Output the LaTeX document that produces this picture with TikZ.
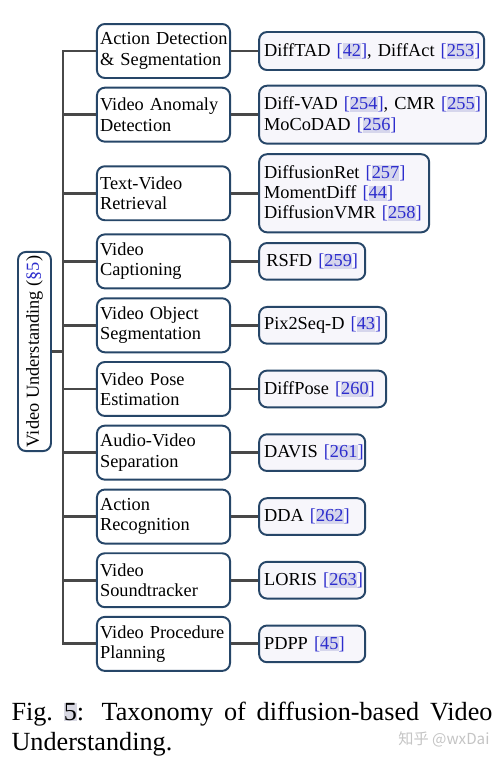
\documentclass[tikz,border=0pt]{standalone}
\usepackage{fontspec}
\setmainfont{Liberation Serif}
\newfontfamily\cjk{Noto Sans CJK SC}
\usepackage{tikz}
\usetikzlibrary{positioning}

\definecolor{boxblue}{RGB}{38,70,104}
\definecolor{edgegray}{RGB}{72,72,72}
\definecolor{leafbg}{RGB}{247,246,251}
\definecolor{citeblue}{RGB}{45,45,205}
\definecolor{citebg}{RGB}{214,214,236}
\definecolor{figbg}{RGB}{216,216,226}
\definecolor{wmgray}{RGB}{196,196,196}

\newcommand{\diagfont}{\fontsize{7}{7.8}\selectfont\hyphenpenalty=10000\exhyphenpenalty=10000}
\newcommand{\citebox}[1]{{\color{citeblue}[{\fboxsep=0pt\colorbox{citebg}{\vphantom{[]}#1}}]}}

\begin{document}
\begin{tikzpicture}[x=0.3817pt, y=0.3817pt, node distance=2.95pt and 10.35pt,
	cat/.style={draw=boxblue, line width=0.75pt, rounded corners=3pt, fill=white, minimum height=20.6pt, text width=48.4pt, inner xsep=1.2pt, inner ysep=1pt, align=left, font=\diagfont},
	leaf/.style={draw=boxblue, line width=0.75pt, rounded corners=3pt, fill=leafbg, minimum height=14pt, text width=#1, inner xsep=1.9pt, inner ysep=1pt, align=left, font=\diagfont},
	leaf/.default=36.7pt,
	root/.style={draw=boxblue, line width=0.75pt, rounded corners=3pt, fill=white, minimum width=12.6pt, minimum height=76pt, inner sep=0.5pt, font=\diagfont},
	edge/.style={draw=edgegray, line width=1.1pt},
	capt/.style={anchor=north west, text width=183.6pt, align=justify, inner sep=0pt, font=\fontsize{10}{11.3}\selectfont},
	wm/.style={text=wmgray, inner sep=0pt, font=\cjk\fontsize{5.8}{6}\selectfont}]
	\useasboundingbox (0,0) rectangle (503,-760);

	\node[cat] (det) at (163.5,-51) {Action~Detection\\ \&~Segmentation};
	\node[cat, below=of det] (anom) {Video~Anomaly\\ Detection};
	\node[cat, below=8.65pt of anom] (ret) {Text-Video\\ Retrieval};
	\node[cat, below=4.65pt of ret] (capn) {Video\\ Captioning};
	\node[cat, below=3.05pt of capn] (vos) {Video~Object\\ Segmentation};
	\node[cat, below=of vos] (pose) {Video~Pose\\ Estimation};
	\node[cat, below=of pose] (avs) {Audio-Video\\ Separation};
	\node[cat, below=3.05pt of avs] (rec) {Action\\ Recognition};
	\node[cat, below=of rec] (sound) {Video\\ Soundtracker};
	\node[cat, below=of sound] (plan) {Video~Procedure\\ Planning};

	\node[leaf=82.1pt, minimum height=14.5pt, right=of det] (detl) {DiffTAD~\citebox{42},~DiffAct~\citebox{253}};
	\node[leaf=82.8pt, minimum height=22.1pt, right=of anom] (anoml) {Diff-VAD~\citebox{254},~CMR~\citebox{255}\\ MoCoDAD~\citebox{256}};
	\node[leaf=61.1pt, minimum height=29.8pt, right=of ret] (retl) {DiffusionRet~\citebox{257}\\ MomentDiff~\citebox{44}\\ DiffusionVMR~\citebox{258}};
	\node[leaf, align=center, right=of capn] (capl) {RSFD~\citebox{259}};
	\node[leaf=44.7pt, right=of vos] (vosl) {Pix2Seq-D~\citebox{43}};
	\node[leaf=44.7pt, right=of pose] (posel) {DiffPose~\citebox{260}};
	\node[leaf, right=of avs] (avsl) {DAVIS~\citebox{261}};
	\node[leaf, right=of rec] (recl) {DDA~\citebox{262}};
	\node[leaf, right=of sound] (soundl) {LORIS~\citebox{263}};
	\node[leaf, right=of plan] (planl) {PDPP~\citebox{45}};

	\node[root] (root) at (34.5,-351.5) {\rotatebox{90}{Video Understanding (\textcolor{citeblue}{§5})}};
	\coordinate[right=4.2pt of root.east] (fork);

	\draw[edge] (root.east) -- (fork);
	\draw[edge] (fork) |- (det.west);
	\draw[edge] (fork) |- (anom.west);
	\draw[edge] (fork) |- (ret.west);
	\draw[edge] (fork) |- (capn.west);
	\draw[edge] (fork) |- (vos.west);
	\draw[edge] (fork) |- (pose.west);
	\draw[edge] (fork) |- (avs.west);
	\draw[edge] (fork) |- (rec.west);
	\draw[edge] (fork) |- (sound.west);
	\draw[edge] (fork) |- (plan.west);

	\draw[edge] (det) -- (detl);
	\draw[edge] (anom) -- (anoml);
	\draw[edge] (ret) -- (retl);
	\draw[edge] (capn) -- (capl);
	\draw[edge] (vos) -- (vosl);
	\draw[edge] (pose) -- (posel);
	\draw[edge] (avs) -- (avsl);
	\draw[edge] (rec) -- (recl);
	\draw[edge] (sound) -- (soundl);
	\draw[edge] (plan) -- (planl);

	\node[capt] (caption) at (11,-701.5) {Fig.~{\fboxsep=0pt\colorbox{figbg}{5}}: Taxonomy of diffusion-based Video Understanding.};
	\node[wm, anchor=base east] (mark) at (490,-744) {知乎 @wxDai};

\end{tikzpicture}
\end{document}
